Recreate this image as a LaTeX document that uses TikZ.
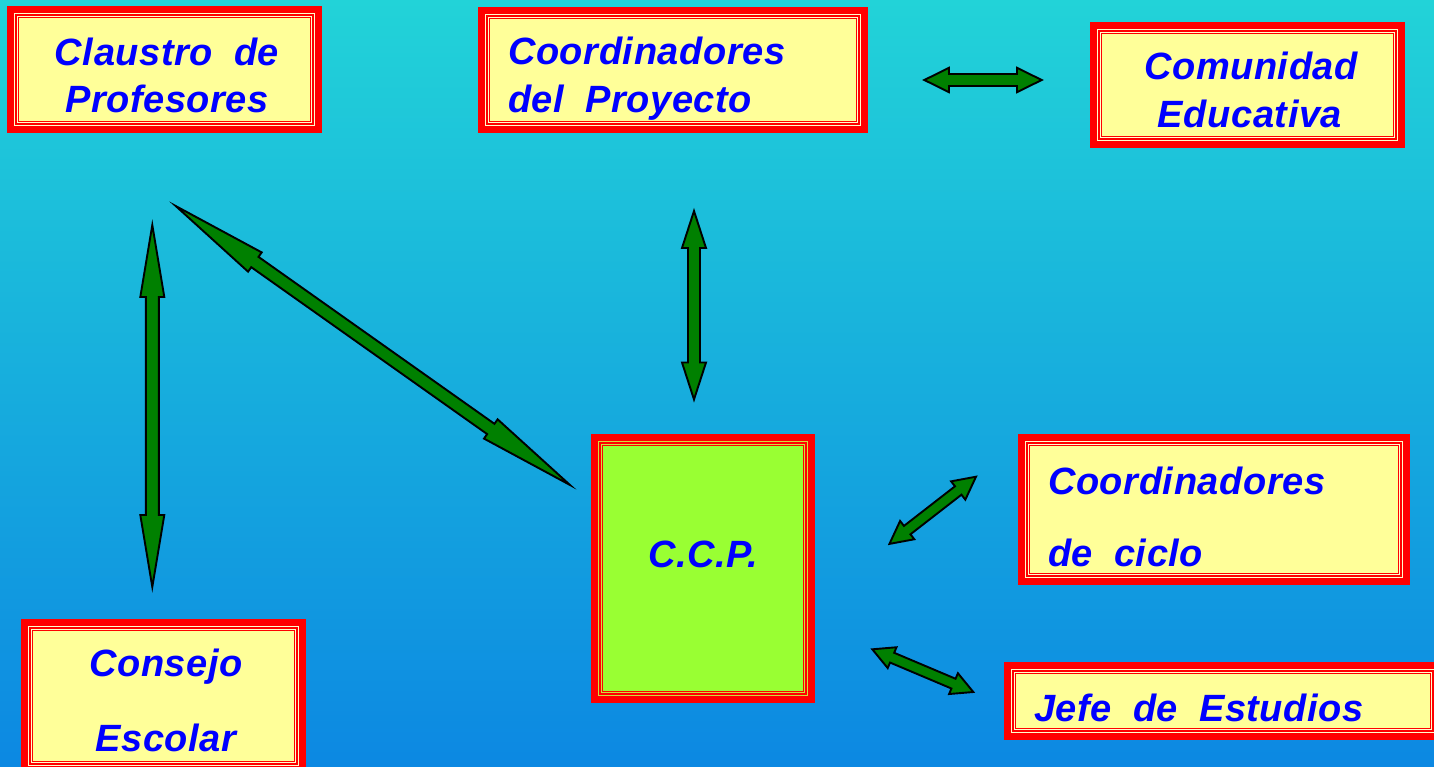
\documentclass[tikz,border=0pt]{standalone}
\usepackage{fontspec}
\setmainfont{Liberation Sans}
\newfontfamily\lblfont[WordSpace=1.9,LetterSpace=1.5]{Liberation Sans}
\usetikzlibrary{calc}
\definecolor{bgtop}{RGB}{34,211,216}
\definecolor{bgbot}{RGB}{12,136,226}
\definecolor{boxyellow}{RGB}{255,255,153}
\definecolor{boxgreen}{RGB}{153,255,51}
\definecolor{arrowgreen}{RGB}{0,128,0}
\definecolor{txtblue}{RGB}{0,0,255}
\definecolor{gapyellow}{RGB}{255,255,205}
\definecolor{gapgreen}{RGB}{205,225,60}
\tikzset{
  framebox/.style={draw=red, line width=6.6pt, inner sep=0pt, outer sep=0pt},
  lbl/.style={text=txtblue, font=\lblfont\fontsize{38}{46}\selectfont\bfseries\itshape, inner sep=0pt},
  blockarrow/.style={draw=black, fill=arrowgreen, line width=1.9pt, line join=miter},
}
% name, x1, y1, x2, y2, fill, gap colour
\newcommand\framedbox[7]{%
  \node[framebox, fill=#6, minimum width={#4-#2-6.6}, minimum height={#5-#3-6.6}] (#1) at ({(#2+#4)/2},{(#3+#5)/2}) {};
  \draw[#7, line width=4.1pt] ([xshift=5.35pt,yshift=-5.35pt]#1.north west) rectangle ([xshift=-5.35pt,yshift=5.35pt]#1.south east);
  \draw[red, line width=1.5pt] ([xshift=5.7pt,yshift=-5.7pt]#1.north west) rectangle ([xshift=-5.7pt,yshift=5.7pt]#1.south east);
  \draw[red, line width=1.1pt] ([xshift=7.9pt,yshift=-7.9pt]#1.north west) rectangle ([xshift=-7.9pt,yshift=7.9pt]#1.south east);
}
% from, to, head length, head half width, shaft half width
\newcommand\dblarrow[5]{%
  \path (#1); \pgfgetlastxy{\dax}{\day}
  \path (#2); \pgfgetlastxy{\dbx}{\dby}
  \pgfmathsetmacro\daang{atan2(\dby-\day,\dbx-\dax)}
  \pgfmathsetmacro\dalen{veclen(\dbx-\dax,\dby-\day)}
  \draw[blockarrow, shift={(\dax,\day)}, rotate=\daang, x=1pt, y=1pt]
    (0,0) -- (#3,#4) -- (#3,#5) -- (\dalen-#3,#5) -- (\dalen-#3,#4) -- (\dalen,0)
    -- (\dalen-#3,-#4) -- (\dalen-#3,-#5) -- (#3,-#5) -- (#3,-#4) -- cycle;
}
\begin{document}
\begin{tikzpicture}[x=1pt,y=-1pt]
\useasboundingbox (0,0) rectangle (1434,767);
\clip (0,0) rectangle (1434,767);
\shade[top color=bgtop, bottom color=bgbot] (0,0) rectangle (1434,767);

% boxes
\framedbox{claustro}{7}{6}{322}{133}{boxyellow}{gapyellow}
\framedbox{coordproy}{478}{7}{868}{133}{boxyellow}{gapyellow}
\framedbox{comunidad}{1090}{22}{1405}{148}{boxyellow}{gapyellow}
\framedbox{ccp}{591}{434}{815}{703}{boxgreen}{gapgreen}
\framedbox{coordciclo}{1018}{434}{1410}{585}{boxyellow}{gapyellow}
\framedbox{jefe}{1004}{662}{1442}{740}{boxyellow}{gapyellow}
\framedbox{consejo}{21}{619}{306}{773}{boxyellow}{gapyellow}

% texts
\node[lbl, anchor=base] (t-claustro1) at (167,66) {Claustro de};
\node[lbl, anchor=base] (t-claustro2) at (167,113) {Profesores};
\node[lbl, anchor=base west] (t-coordproy1) at (508,65) {Coordinadores};
\node[lbl, anchor=base west] (t-coordproy2) at (508,113) {del Proyecto};
\node[lbl, anchor=base] (t-comunidad1) at (1251,80) {Comunidad};
\node[lbl, anchor=base] (t-comunidad2) at (1250,128) {Educativa};
\node[lbl, anchor=base] (t-ccp) at (703,567) {C.C.P.};
\node[lbl, anchor=base west] (t-coordciclo1) at (1048,494) {Coordinadores};
\node[lbl, anchor=base west] (t-coordciclo2) at (1048,566) {de ciclo};
\node[lbl, anchor=base west] (t-jefe) at (1034,721) {Jefe de Estudios};
\node[lbl, anchor=base] (t-consejo1) at (166,676) {Consejo};
\node[lbl, anchor=base] (t-consejo2) at (166,751) {Escolar};

% arrow end points
\coordinate (a1s) at (152.3,225);   \coordinate (a1e) at (152.3,587);
\coordinate (a2s) at (175.7,206);   \coordinate (a2e) at (570,485);
\coordinate (a3s) at (694,211);     \coordinate (a3e) at (694,399.5);
\coordinate (a4s) at (924.3,80);    \coordinate (a4e) at (1041.7,80);
\coordinate (a5s) at (976,476.7);   \coordinate (a5e) at (889.3,544);
\coordinate (a6s) at (872.3,649.3); \coordinate (a6e) at (973.3,692);

\dblarrow{a1s}{a1e}{72}{12}{6.5}
\dblarrow{a2s}{a2e}{97}{11.8}{6.3}
\dblarrow{a3s}{a3e}{37}{12}{6}
\dblarrow{a4s}{a4e}{24.7}{12.2}{6}
\dblarrow{a5s}{a5e}{22.5}{11.6}{5.3}
\dblarrow{a6s}{a6e}{21.5}{11.3}{5.3}
\end{tikzpicture}
\end{document}
